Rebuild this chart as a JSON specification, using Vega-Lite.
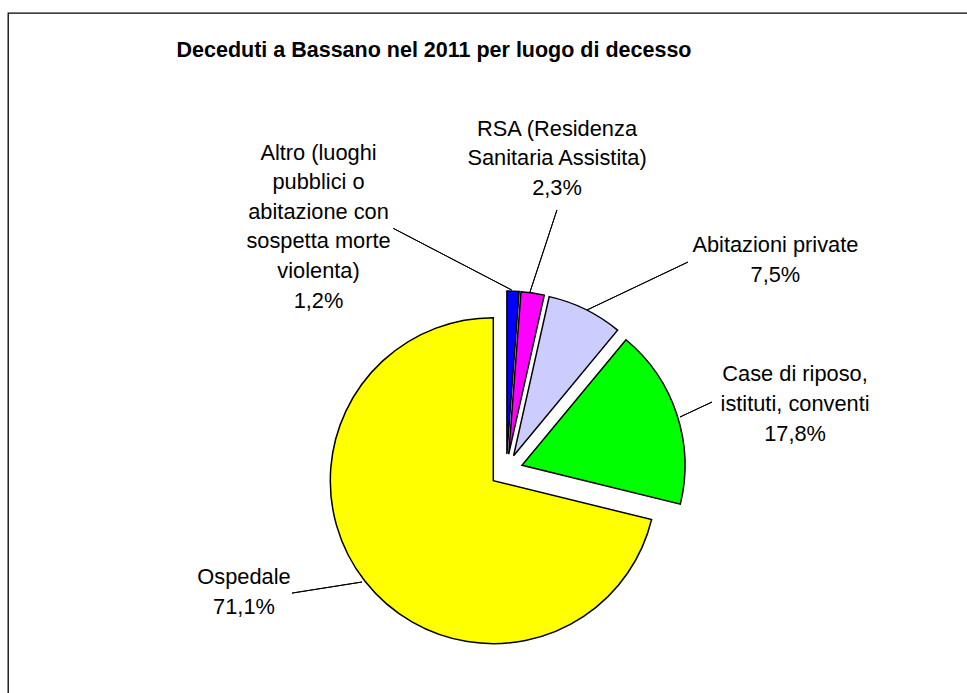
{
  "$schema": "https://vega.github.io/schema/vega-lite/v6.json",
  "width": 965,
  "height": 686,
  "autosize": {"type": "none"},
  "padding": {"left": 8, "top": 13, "right": -6, "bottom": -6},
  "background": "white",
  "view": {"stroke": "black", "strokeWidth": 1.3},
  "title": {
    "text": "Deceduti a Bassano nel 2011 per luogo di decesso",
    "font": "Liberation Sans",
    "fontSize": 21.5,
    "fontWeight": "bold",
    "color": "black",
    "anchor": "middle",
    "frame": "group",
    "baseline": "alphabetic",
    "dx": -56.5,
    "offset": -65
  },
  "data": {
    "values": [
      {"ord": 1, "name": "Altro (luoghi\npubblici o\nabitazione con\nsospetta morte\nviolenta)", "value": 1.2},
      {"ord": 2, "name": "RSA (Residenza\nSanitaria Assistita)", "value": 2.3},
      {"ord": 3, "name": "Abitazioni private", "value": 7.5},
      {"ord": 4, "name": "Case di riposo,\nistituti, conventi", "value": 17.8},
      {"ord": 5, "name": "Ospedale", "value": 71.1}
    ]
  },
  "transform": [
    {"stack": "value", "groupby": [], "sort": [{"field": "ord", "order": "ascending"}], "as": ["v0", "v1"]},
    {"calculate": "(datum.v0 + datum.v1) / 2", "as": "mid"},
    {"calculate": "datum.name + '\\n' + replace(format(datum.value, '.1f'), '.', ',') + '%'", "as": "label"}
  ],
  "layer": [
    {
      "transform": [{"filter": "datum.ord == 5"}],
      "mark": {"type": "arc", "radius": 163, "stroke": "black", "strokeWidth": 1.5, "xOffset": 2.8, "yOffset": 124.7},
      "encoding": {
        "theta": {"field": "v0", "type": "quantitative", "stack": null, "scale": {"domain": [0, 99.9]}},
        "theta2": {"field": "v1"},
        "color": {"field": "ord", "type": "nominal", "scale": {"domain": [1, 2, 3, 4, 5], "range": ["#0000FF", "#FF00FF", "#CCCCFF", "#00FF00", "#FFFF00"]}, "legend": null}
      }
    },
    {
      "transform": [{"filter": "datum.ord == 4"}],
      "mark": {"type": "arc", "radius": 163, "stroke": "black", "strokeWidth": 1.5, "xOffset": 31.5, "yOffset": 109.3},
      "encoding": {
        "theta": {"field": "v0", "type": "quantitative", "stack": null, "scale": {"domain": [0, 99.9]}},
        "theta2": {"field": "v1"},
        "color": {"field": "ord", "type": "nominal", "scale": {"domain": [1, 2, 3, 4, 5], "range": ["#0000FF", "#FF00FF", "#CCCCFF", "#00FF00", "#FFFF00"]}, "legend": null}
      }
    },
    {
      "transform": [{"filter": "datum.ord == 3"}],
      "mark": {"type": "arc", "radius": 163, "stroke": "black", "strokeWidth": 1.5, "xOffset": 23.1, "yOffset": 99.7},
      "encoding": {
        "theta": {"field": "v0", "type": "quantitative", "stack": null, "scale": {"domain": [0, 99.9]}},
        "theta2": {"field": "v1"},
        "color": {"field": "ord", "type": "nominal", "scale": {"domain": [1, 2, 3, 4, 5], "range": ["#0000FF", "#FF00FF", "#CCCCFF", "#00FF00", "#FFFF00"]}, "legend": null}
      }
    },
    {
      "transform": [{"filter": "datum.ord == 2"}],
      "mark": {"type": "arc", "radius": 163, "stroke": "black", "strokeWidth": 1.5, "xOffset": 18.2, "yOffset": 98.2},
      "encoding": {
        "theta": {"field": "v0", "type": "quantitative", "stack": null, "scale": {"domain": [0, 99.9]}},
        "theta2": {"field": "v1"},
        "color": {"field": "ord", "type": "nominal", "scale": {"domain": [1, 2, 3, 4, 5], "range": ["#0000FF", "#FF00FF", "#CCCCFF", "#00FF00", "#FFFF00"]}, "legend": null}
      }
    },
    {
      "transform": [{"filter": "datum.ord == 1"}],
      "mark": {"type": "arc", "radius": 163, "stroke": "black", "strokeWidth": 1.5, "xOffset": 16.4, "yOffset": 98.0},
      "encoding": {
        "theta": {"field": "v0", "type": "quantitative", "stack": null, "scale": {"domain": [0, 99.9]}},
        "theta2": {"field": "v1"},
        "color": {"field": "ord", "type": "nominal", "scale": {"domain": [1, 2, 3, 4, 5], "range": ["#0000FF", "#FF00FF", "#CCCCFF", "#00FF00", "#FFFF00"]}, "legend": null}
      }
    },
    {
      "transform": [{"filter": "datum.ord == 1"}],
      "mark": {"type": "arc", "radius": 133.5, "radius2": 0, "fill": null, "stroke": "black", "strokeWidth": 1, "xOffset": 21.2, "yOffset": -66, "thetaOffset": -1.1285, "theta2Offset": -1.1285},
      "encoding": {
        "theta": {"field": "mid", "type": "quantitative", "stack": null, "scale": {"domain": [0, 99.9]}},
        "theta2": {"field": "mid"}
      }
    },
    {
      "transform": [{"filter": "datum.ord == 2"}],
      "mark": {"type": "arc", "radius": 86.3, "radius2": 0, "fill": null, "stroke": "black", "strokeWidth": 1, "xOffset": 39.5, "yOffset": -64, "thetaOffset": 0.1698, "theta2Offset": 0.1698},
      "encoding": {
        "theta": {"field": "mid", "type": "quantitative", "stack": null, "scale": {"domain": [0, 99.9]}},
        "theta2": {"field": "mid"}
      }
    },
    {
      "transform": [{"filter": "datum.ord == 3"}],
      "mark": {"type": "arc", "radius": 111.8, "radius2": 0, "fill": null, "stroke": "black", "strokeWidth": 1, "xOffset": 96.5, "yOffset": -46, "thetaOffset": 0.6714, "theta2Offset": 0.6714},
      "encoding": {
        "theta": {"field": "mid", "type": "quantitative", "stack": null, "scale": {"domain": [0, 99.9]}},
        "theta2": {"field": "mid"}
      }
    },
    {
      "transform": [{"filter": "datum.ord == 4"}],
      "mark": {"type": "arc", "radius": 35.3, "radius2": 0, "fill": null, "stroke": "black", "strokeWidth": 1, "xOffset": 189.5, "yOffset": 61, "thetaOffset": -0.1187, "theta2Offset": -0.1187},
      "encoding": {
        "theta": {"field": "mid", "type": "quantitative", "stack": null, "scale": {"domain": [0, 99.9]}},
        "theta2": {"field": "mid"}
      }
    },
    {
      "transform": [{"filter": "datum.ord == 5"}],
      "mark": {"type": "arc", "radius": 70.9, "radius2": 0, "fill": null, "stroke": "black", "strokeWidth": 1, "xOffset": -128.5, "yOffset": 226, "thetaOffset": 0.5079, "theta2Offset": 0.5079},
      "encoding": {
        "theta": {"field": "mid", "type": "quantitative", "stack": null, "scale": {"domain": [0, 99.9]}},
        "theta2": {"field": "mid"}
      }
    },
    {
      "transform": [{"filter": "datum.ord == 1"}],
      "mark": {"type": "text", "font": "Liberation Sans", "fontSize": 21.8, "lineBreak": "\n", "lineHeight": 29.6, "align": "center", "baseline": "middle", "color": "black", "radius": 250, "xOffset": -181.4, "yOffset": 46.5},
      "encoding": {
        "theta": {"field": "mid", "type": "quantitative", "stack": null, "scale": {"domain": [0, 99.9]}},
        "text": {"field": "label"}
      }
    },
    {
      "transform": [{"filter": "datum.ord == 2"}],
      "mark": {"type": "text", "font": "Liberation Sans", "fontSize": 21.8, "lineBreak": "\n", "lineHeight": 29.6, "align": "center", "baseline": "middle", "color": "black", "radius": 316, "xOffset": 20, "yOffset": 85.4},
      "encoding": {
        "theta": {"field": "mid", "type": "quantitative", "stack": null, "scale": {"domain": [0, 99.9]}},
        "text": {"field": "label"}
      }
    },
    {
      "transform": [{"filter": "datum.ord == 3"}],
      "mark": {"type": "text", "font": "Liberation Sans", "fontSize": 21.8, "lineBreak": "\n", "lineHeight": 29.6, "align": "center", "baseline": "middle", "color": "black", "radius": 300, "xOffset": 152.8, "yOffset": 158.5},
      "encoding": {
        "theta": {"field": "mid", "type": "quantitative", "stack": null, "scale": {"domain": [0, 99.9]}},
        "text": {"field": "label"}
      }
    },
    {
      "transform": [{"filter": "datum.ord == 4"}],
      "mark": {"type": "text", "font": "Liberation Sans", "fontSize": 21.8, "lineBreak": "\n", "lineHeight": 29.6, "align": "center", "baseline": "middle", "color": "black", "radius": 296, "xOffset": 23.5, "yOffset": 111.3},
      "encoding": {
        "theta": {"field": "mid", "type": "quantitative", "stack": null, "scale": {"domain": [0, 99.9]}},
        "text": {"field": "label"}
      }
    },
    {
      "transform": [{"filter": "datum.ord == 5"}],
      "mark": {"type": "text", "font": "Liberation Sans", "fontSize": 21.8, "lineBreak": "\n", "lineHeight": 29.6, "align": "center", "baseline": "middle", "color": "black", "radius": 289, "xOffset": -19.1, "yOffset": 42.9},
      "encoding": {
        "theta": {"field": "mid", "type": "quantitative", "stack": null, "scale": {"domain": [0, 99.9]}},
        "text": {"field": "label"}
      }
    }
  ]
}
